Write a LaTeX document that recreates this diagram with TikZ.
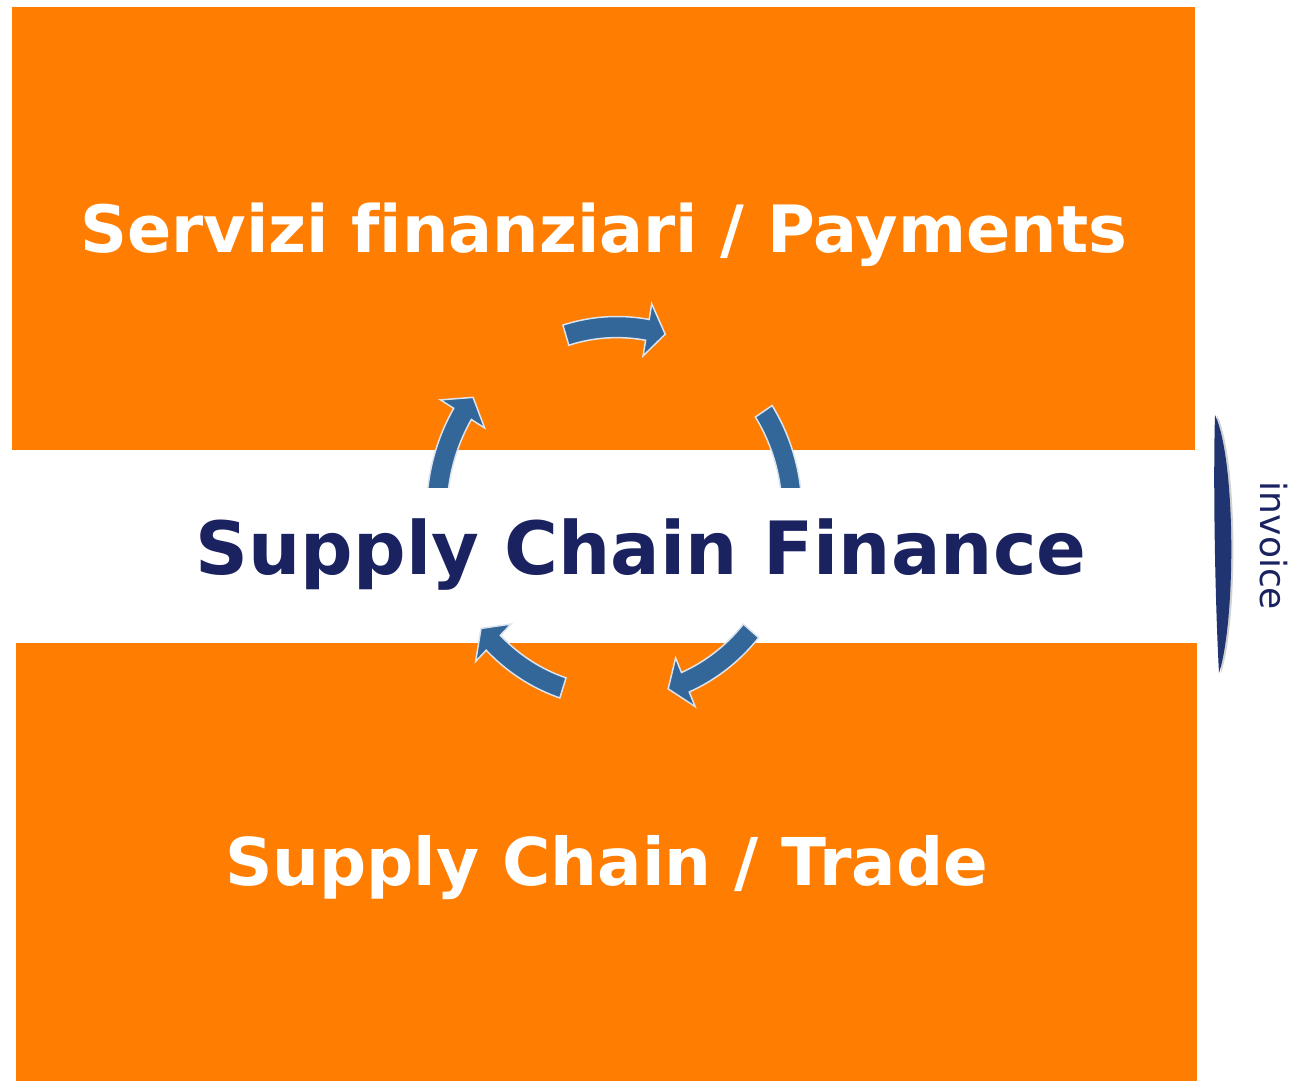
\documentclass[tikz,border=0pt]{standalone}
\usepackage{fontspec}
\setmainfont{DejaVu Sans}[Ligatures=CommonOff]
\definecolor{scforange}{HTML}{FF7D00}
\definecolor{scfnavy}{HTML}{1A2360}
\definecolor{scfblue}{HTML}{336699}
\definecolor{scfrim}{HTML}{DCE4EE}
\definecolor{scfbar}{HTML}{1F3470}
\tikzset{block/.style={fill=scforange, inner sep=0pt, text=white, text height=27pt, text depth=0pt},
         cyc/.style={fill=scfblue, draw=scfrim, line width=0.85pt, line join=miter}}

\begin{document}
\begin{tikzpicture}[x=0.02cm,y=-0.02cm]
  \useasboundingbox (0,0) rectangle (1291,1081);
  \node[block, minimum width=23.66cm, minimum height=8.86cm, font=\bfseries\fontsize{37.15pt}{44pt}\selectfont] (pay)   at (603.5,228.5) {Servizi f\kern0pt inanziari / Payments};
  \node[block, minimum width=23.62cm, minimum height=8.76cm, font=\bfseries\fontsize{37.5pt}{44pt}\selectfont]  (trade) at (606.5,862.0) {Supply Chain / Trade};
  \begin{scope}[shift={(617,512)},yscale=1.057]
   \begin{scope}[rotate=  74] \filldraw[cyc] (33:3.7cm) arc[start angle=33, end angle=6, radius=3.7cm] -- (6:4cm) -- (0:3.5cm) -- (6:3cm) -- (6:3.3cm) arc[start angle=6, end angle=33, radius=3.3cm] -- cycle; \end{scope}
   \begin{scope}[rotate=   0] \filldraw[cyc] (33:3.7cm) arc[start angle=33, end angle=6, radius=3.7cm] -- (6:4cm) -- (0:3.5cm) -- (6:3cm) -- (6:3.3cm) arc[start angle=6, end angle=33, radius=3.3cm] -- cycle; \end{scope}
   \begin{scope}[rotate= -73] \filldraw[cyc] (33:3.7cm) arc[start angle=33, end angle=6, radius=3.7cm] -- (6:4cm) -- (0:3.5cm) -- (6:3cm) -- (6:3.3cm) arc[start angle=6, end angle=33, radius=3.3cm] -- cycle; \end{scope}
   \begin{scope}[rotate=-141] \filldraw[cyc] (33:3.7cm) arc[start angle=33, end angle=6, radius=3.7cm] -- (6:4cm) -- (0:3.5cm) -- (6:3cm) -- (6:3.3cm) arc[start angle=6, end angle=33, radius=3.3cm] -- cycle; \end{scope}
   \begin{scope}[rotate= 143,scale=1.03] \filldraw[cyc] (33:3.7cm) arc[start angle=33, end angle=6, radius=3.7cm] -- (6:4cm) -- (0:3.5cm) -- (6:3cm) -- (6:3.3cm) arc[start angle=6, end angle=33, radius=3.3cm] -- cycle; \end{scope}
  \end{scope}
  \node[fill=white, text=scfnavy, inner xsep=0pt, minimum height=2.4cm, text height=30.5pt, text depth=0pt,
        font=\bfseries\fontsize{41.8pt}{50pt}\selectfont] (scf) at (641,548) {Supply Chain Finance};
  \fill[gray!35,xshift=1.2pt] (1215,415) .. controls (1236,460) and (1236,620) .. (1219,673)
    .. controls (1215,600) and (1213,480) .. (1215,415) -- cycle;
  \fill[scfbar] (1215,415) .. controls (1236,460) and (1236,620) .. (1219,673)
    .. controls (1215,600) and (1213,480) .. (1215,415) -- cycle;
  \node[rotate=-90, text=scfnavy, inner sep=0pt, font=\fontsize{20.5pt}{24pt}\selectfont] (inv) at (1274,546) {invoice};
\end{tikzpicture}
\end{document}
